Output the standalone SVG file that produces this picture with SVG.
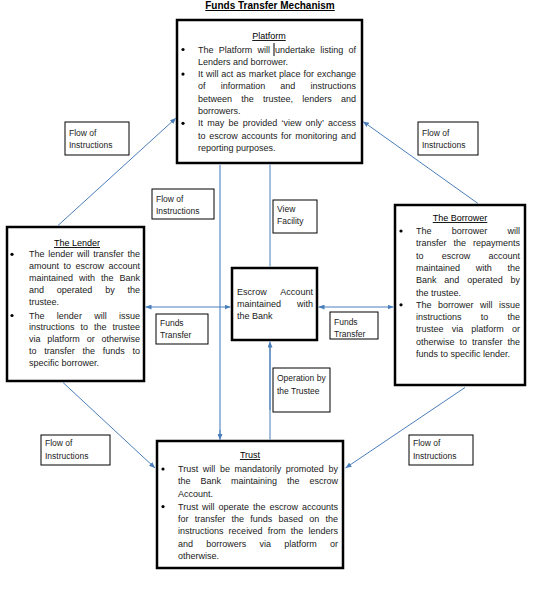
<svg xmlns="http://www.w3.org/2000/svg" width="542" height="589" viewBox="0 0 542 589">
<style>
.bg{fill:#fff}
.box{fill:#fff;stroke:#000;stroke-width:2.5}
.lbl{fill:#fff;stroke:#000;stroke-width:1}
.t{font-family:"Liberation Sans",Arial,sans-serif;font-size:9px;fill:#1a1a1a}
.s{font-family:"Liberation Sans",Arial,sans-serif;font-size:8.5px;fill:#1a1a1a}
.h{font-family:"Liberation Sans",Arial,sans-serif;font-size:9px;fill:#000;text-anchor:middle;text-decoration:underline}
.ttl{font-family:"Liberation Sans",Arial,sans-serif;font-size:10px;font-weight:bold;fill:#000;text-anchor:middle;text-decoration:underline}
.b{fill:#000}
.c{stroke:#4A7EBB;stroke-width:1;fill:none}
.cl{stroke:#9DB9DD;stroke-width:2;fill:none}
</style>
<defs>
<marker id="ah" markerWidth="6" markerHeight="5" refX="6" refY="2.5" orient="auto-start-reverse" markerUnits="userSpaceOnUse">
<path d="M0,0 L6,2.5 L0,5 z" fill="#4A7EBB"/>
</marker>
</defs>
<rect class="bg" x="0" y="0" width="542" height="589"/>
<g id="title"><text class="ttl" x="270" y="9">Funds Transfer Mechanism</text></g>

<g id="platform">
<rect class="box" x="177" y="20" width="185" height="143"/>
<text class="h" x="269" y="39">Platform</text>
<circle class="b" cx="183" cy="49.5" r="1.6"/>
<circle class="b" cx="183" cy="74.1" r="1.6"/>
<circle class="b" cx="183" cy="123.3" r="1.6"/>
<text class="t" x="198" y="52.5" textLength="158" lengthAdjust="spacing" style="word-spacing:2.7px">The Platform will undertake listing of</text>
<line x1="274" y1="43" x2="274" y2="56" stroke="#000" stroke-width="1"/>
<text class="t" x="198" y="64.8">Lenders and borrower.</text>
<text class="t" x="198" y="77.1" textLength="158" lengthAdjust="spacing" style="word-spacing:0.4px">It will act as market place for exchange</text>
<text class="t" x="198" y="89.4" textLength="158" lengthAdjust="spacing" style="word-spacing:12.6px">of information and instructions</text>
<text class="t" x="198" y="101.7" textLength="158" lengthAdjust="spacing" style="word-spacing:6.7px">between the trustee, lenders and</text>
<text class="t" x="198" y="114">borrowers.</text>
<text class="t" x="198" y="126.3" textLength="158" lengthAdjust="spacing" style="word-spacing:1.7px">It may be provided ‘view only’ access</text>
<text class="t" x="198" y="138.6" textLength="158" lengthAdjust="spacing" style="word-spacing:1.2px">to escrow accounts for monitoring and</text>
<text class="t" x="198" y="150.9">reporting purposes.</text>
</g>

<g id="lender">
<rect class="box" x="7" y="227" width="137" height="154"/>
<text class="h" x="77" y="246">The Lender</text>
<circle class="b" cx="12" cy="254.3" r="1.6"/>
<circle class="b" cx="12" cy="315.5" r="1.6"/>
<text class="t" x="29" y="257.3" textLength="111" lengthAdjust="spacing" style="word-spacing:1.25px">The lender will transfer the</text>
<text class="t" x="29" y="269.1" textLength="111" lengthAdjust="spacing" style="word-spacing:2px">amount to escrow account</text>
<text class="t" x="29" y="280.9" textLength="111" lengthAdjust="spacing" style="word-spacing:3.5px">maintained with the Bank</text>
<text class="t" x="29" y="292.7" textLength="111" lengthAdjust="spacing" style="word-spacing:10.3px">and operated by the</text>
<text class="t" x="29" y="304.5">trustee.</text>
<text class="t" x="29" y="318.5" textLength="111" lengthAdjust="spacing" style="word-spacing:9.8px">The lender will issue</text>
<text class="t" x="29" y="330.3" textLength="111" lengthAdjust="spacing" style="word-spacing:3.5px">instructions to the trustee</text>
<text class="t" x="29" y="342.1" textLength="111" lengthAdjust="spacing" style="word-spacing:4.3px">via platform or otherwise</text>
<text class="t" x="29" y="353.9" textLength="111" lengthAdjust="spacing" style="word-spacing:5.2px">to transfer the funds to</text>
<text class="t" x="29" y="365.7">specific borrower.</text>
</g>

<g id="borrower">
<rect class="box" x="395" y="205" width="130" height="180"/>
<text class="h" x="460" y="221">The Borrower</text>
<circle class="b" cx="401" cy="231" r="1.6"/>
<circle class="b" cx="401" cy="304.8" r="1.6"/>
<text class="t" x="416" y="234" textLength="104" lengthAdjust="spacing" style="word-spacing:17.7px">The borrower will</text>
<text class="t" x="416" y="246.3" textLength="104" lengthAdjust="spacing" style="word-spacing:4.5px">transfer the repayments</text>
<text class="t" x="416" y="258.6" textLength="104" lengthAdjust="spacing" style="word-spacing:15.7px">to escrow account</text>
<text class="t" x="416" y="270.9" textLength="104" lengthAdjust="spacing" style="word-spacing:13.2px">maintained with the</text>
<text class="t" x="416" y="283.2" textLength="104" lengthAdjust="spacing" style="word-spacing:5.3px">Bank and operated by</text>
<text class="t" x="416" y="295.5">the trustee.</text>
<text class="t" x="416" y="307.8" textLength="104" lengthAdjust="spacing" style="word-spacing:4px">The borrower will issue</text>
<text class="t" x="416" y="320.1" textLength="104" lengthAdjust="spacing" style="word-spacing:16.7px">instructions to the</text>
<text class="t" x="416" y="332.4" textLength="104" lengthAdjust="spacing" style="word-spacing:5.7px">trustee via platform or</text>
<text class="t" x="416" y="344.7" textLength="104" lengthAdjust="spacing" style="word-spacing:2.5px">otherwise to transfer the</text>
<text class="t" x="416" y="357">funds to specific lender.</text>
</g>

<g id="trust">
<rect class="box" x="157" y="441" width="186" height="127"/>
<text class="h" x="250" y="458">Trust</text>
<circle class="b" cx="163" cy="469" r="1.6"/>
<circle class="b" cx="163" cy="506.6" r="1.6"/>
<text class="t" x="178" y="472" textLength="160" lengthAdjust="spacing" style="word-spacing:2.1px">Trust will be mandatorily promoted by</text>
<text class="t" x="178" y="484.3" textLength="160" lengthAdjust="spacing" style="word-spacing:7.5px">the Bank maintaining the escrow</text>
<text class="t" x="178" y="496.6">Account.</text>
<text class="t" x="178" y="509.6" textLength="160" lengthAdjust="spacing" style="word-spacing:1.4px">Trust will operate the escrow accounts</text>
<text class="t" x="178" y="521.9" textLength="160" lengthAdjust="spacing" style="word-spacing:3.7px">for transfer the funds based on the</text>
<text class="t" x="178" y="534.2" textLength="160" lengthAdjust="spacing" style="word-spacing:2.6px">instructions received from the lenders</text>
<text class="t" x="178" y="546.5" textLength="160" lengthAdjust="spacing" style="word-spacing:10.7px">and borrowers via platform or</text>
<text class="t" x="178" y="558.8">otherwise.</text>
</g>

<g id="escrow">
<rect class="box" x="232" y="268" width="85" height="72"/>
<text class="t" x="237" y="294.7" textLength="76" lengthAdjust="spacing" style="word-spacing:11.5px">Escrow Account</text>
<text class="t" x="237" y="307" textLength="76" lengthAdjust="spacing" style="word-spacing:13.5px">maintained with</text>
<text class="t" x="237" y="319.3">the Bank</text>
</g>

<g id="label-flow-tl">
<rect class="lbl" x="65" y="122" width="64" height="33"/>
<text class="s" x="69" y="135.5">Flow of</text>
<text class="s" x="69" y="147.5">Instructions</text>
</g>
<g id="label-flow-tr">
<rect class="lbl" x="418" y="122" width="60" height="33"/>
<text class="s" x="422" y="135.5">Flow of</text>
<text class="s" x="422" y="147.5">Instructions</text>
</g>
<g id="label-flow-c">
<rect class="lbl" x="152" y="189" width="62" height="30"/>
<text class="s" x="156" y="202">Flow of</text>
<text class="s" x="156" y="214">Instructions</text>
</g>
<g id="label-view">
<rect class="lbl" x="273" y="200" width="44" height="33"/>
<text class="s" x="277" y="212.3">View</text>
<text class="s" x="277" y="224">Facility</text>
</g>
<g id="label-funds-l">
<rect class="lbl" x="156" y="314" width="52" height="30"/>
<text class="s" x="160" y="326.3">Funds</text>
<text class="s" x="160" y="338">Transfer</text>
</g>
<g id="label-funds-r">
<rect class="lbl" x="330" y="312" width="48" height="27"/>
<text class="s" x="334" y="325.3">Funds</text>
<text class="s" x="334" y="337">Transfer</text>
</g>
<g id="label-operation">
<rect class="lbl" x="273" y="368" width="57" height="44"/>
<text class="s" x="277" y="381">Operation by</text>
<text class="s" x="277" y="394">the Trustee</text>
</g>
<g id="label-flow-bl">
<rect class="lbl" x="41" y="435" width="69" height="30"/>
<text class="s" x="45" y="446.3">Flow of</text>
<text class="s" x="45" y="459">Instructions</text>
</g>
<g id="label-flow-br">
<rect class="lbl" x="409" y="435" width="64" height="30"/>
<text class="s" x="413" y="446.3">Flow of</text>
<text class="s" x="413" y="459">Instructions</text>
</g>

<g id="connectors">
<path class="c" d="M58,225.5 L176,118" marker-end="url(#ah)"/>
<path class="c" d="M478,203.5 L363,121.5" marker-end="url(#ah)"/>
<path class="c" d="M63,382.5 L155,468" marker-end="url(#ah)"/>
<path class="c" d="M465,387.5 L345.5,468" marker-end="url(#ah)"/>
<path class="cl" d="M220,164.5 L220,436"/>
<path class="c" d="M220,430 L220,440" marker-end="url(#ah)"/>
<path class="c" d="M270,164.5 L270,266.5"/>
<path class="cl" d="M270,410 L270,346"/>
<path class="c" d="M270,439.5 L270,341.5" marker-end="url(#ah)"/>
<path class="c" d="M145.5,307 L230.5,307" marker-start="url(#ah)" marker-end="url(#ah)"/>
<path class="c" d="M318.5,307 L393.5,307" marker-start="url(#ah)" marker-end="url(#ah)"/>
</g>
</svg>
